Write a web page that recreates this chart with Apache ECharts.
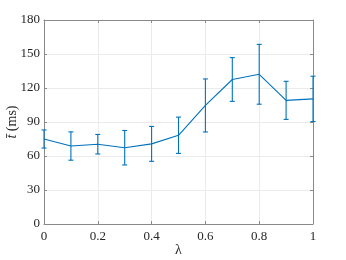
<!DOCTYPE html>
<html><head><meta charset="utf-8">
<script src="https://cdn.jsdelivr.net/npm/echarts@6/dist/echarts.min.js"></script>
<style>html,body{margin:0;padding:0;background:#fff}#c{width:346px;height:260px}</style>
</head><body><div id="c"></div>
<script>
const lambdas = [0, 0.1, 0.2, 0.3, 0.4, 0.5, 0.6, 0.7, 0.8, 0.9, 1.0];
const meanT = [75, 68.8, 70.4, 67.3, 70.7, 78.3, 104.6, 127.5, 132.1, 109.1, 110.4];
const errT = [8, 12.5, 8.6, 15.2, 15.4, 16, 23.4, 19.3, 26.4, 16.8, 20];
const yTicks = [0, 30, 60, 90, 120, 150, 180];

const lineData = lambdas.map((x, i) => [x, meanT[i]]);
const errData = lambdas.map((x, i) => [x, meanT[i] - errT[i], meanT[i] + errT[i]]);
const color = '#0072BD';
const font = 'Liberation Serif';
const axisGray = '#8a8a8a';

const chart = echarts.init(document.getElementById('c'), null, {renderer: 'canvas'});
chart.setOption({
  animation: false,
  grid: {left: 44, right: 33, top: 20, bottom: 36, containLabel: false, outerBoundsMode: 'none'},
  xAxis: [{
    type: 'value', min: 0, max: 1, interval: 0.2,
    name: 'λ', nameLocation: 'middle', nameGap: 19, nameMoveOverlap: false,
    nameTextStyle: {fontFamily: font, fontSize: 14, color: '#262626'},
    axisLine: {show: true, lineStyle: {color: axisGray, width: 1}},
    axisTick: {show: true, inside: true, length: 3, lineStyle: {color: axisGray}},
    axisLabel: {fontFamily: font, fontSize: 13, color: '#262626', margin: 6},
    splitLine: {show: true, lineStyle: {color: '#ebebeb', width: 1}}
  }, {
    type: 'value', min: 0, max: 1, interval: 0.2, position: 'top',
    axisLine: {show: true, onZero: false, lineStyle: {color: axisGray, width: 1}},
    axisTick: {show: true, inside: true, length: 3, lineStyle: {color: axisGray}},
    axisLabel: {show: false}, splitLine: {show: false}
  }],
  yAxis: [{
    type: 'value', min: 0, max: 180, interval: 30,
    name: '{i|t\u0304} (ms)', nameLocation: 'middle', nameGap: 25, nameRotate: 90, nameMoveOverlap: false,
    nameTextStyle: {fontFamily: font, fontSize: 14, color: '#262626',
      rich: {i: {fontFamily: font, fontSize: 14, fontStyle: 'italic', color: '#262626'}}},
    axisLine: {show: true, lineStyle: {color: axisGray, width: 1}},
    axisTick: {show: true, inside: true, length: 3, lineStyle: {color: axisGray}},
    axisLabel: {fontFamily: font, fontSize: 13, color: '#262626', margin: 4,
      formatter: v => yTicks.includes(v) ? String(v) : ''},
    splitLine: {show: true, lineStyle: {color: '#ebebeb', width: 1}}
  }, {
    type: 'value', min: 0, max: 180, interval: 30, position: 'right',
    axisLine: {show: true, onZero: false, lineStyle: {color: axisGray, width: 1}},
    axisTick: {show: true, inside: true, length: 3, lineStyle: {color: axisGray}},
    axisLabel: {show: false}, splitLine: {show: false}
  }],
  series: [{
    type: 'line', data: lineData, showSymbol: false, symbol: 'none',
    lineStyle: {color: color, width: 1.1}, z: 3
  }, {
    type: 'custom', data: errData, z: 4,
    renderItem: function (params, api) {
      const x = api.value(0);
      const lo = api.coord([x, api.value(1)]);
      const hi = api.coord([x, api.value(2)]);
      const w = 2.5;
      const st = {stroke: color, lineWidth: 1.1};
      return {type: 'group', children: [
        {type: 'line', shape: {x1: lo[0], y1: lo[1], x2: hi[0], y2: hi[1]}, style: st},
        {type: 'line', shape: {x1: lo[0] - w, y1: lo[1], x2: lo[0] + w, y2: lo[1]}, style: st},
        {type: 'line', shape: {x1: hi[0] - w, y1: hi[1], x2: hi[0] + w, y2: hi[1]}, style: st}
      ]};
    },
    encode: {x: 0, y: [1, 2]}
  }]
});
</script></body></html>
